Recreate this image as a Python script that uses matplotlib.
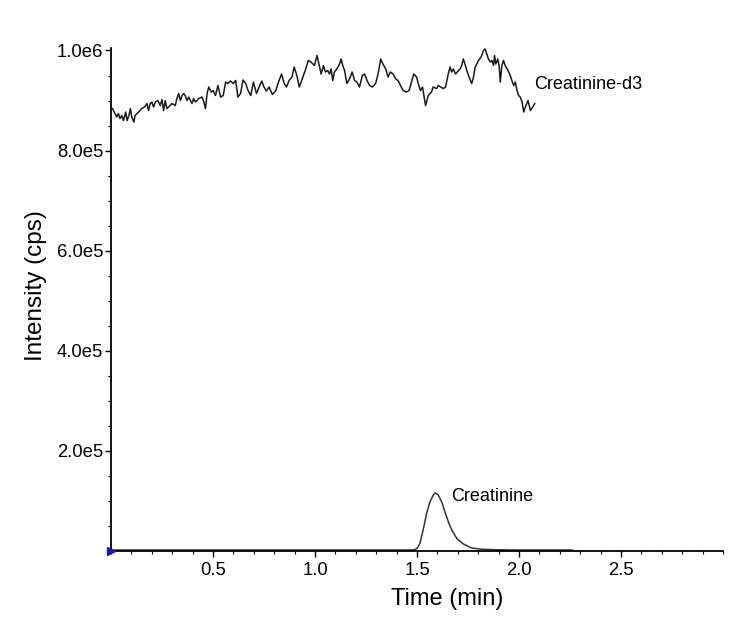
import matplotlib
matplotlib.use('Agg')
import matplotlib.pyplot as plt
import numpy as np

plt.rcParams['font.family'] = ['Liberation Sans', 'DejaVu Sans']

# Creatinine-d3 trace (time in min, intensity in k cps)
t_d3 = [0.007, 0.016, 0.028, 0.036, 0.044, 0.053, 0.061, 0.072, 0.079, 0.089,
        0.095, 0.102, 0.112, 0.118, 0.135, 0.151, 0.164, 0.176, 0.184, 0.192,
        0.200, 0.209, 0.217, 0.230, 0.241, 0.250, 0.258, 0.266, 0.274, 0.282,
        0.299, 0.315, 0.323, 0.332, 0.340, 0.348, 0.356, 0.364, 0.373, 0.381,
        0.389, 0.397, 0.405, 0.414, 0.430, 0.446, 0.455, 0.463, 0.471, 0.479,
        0.492, 0.501, 0.512, 0.524, 0.537, 0.550, 0.562, 0.573, 0.586, 0.599,
        0.611, 0.622, 0.635, 0.647, 0.660, 0.672, 0.685, 0.698, 0.713, 0.726,
        0.739, 0.750, 0.762, 0.775, 0.791, 0.808, 0.821, 0.836, 0.849, 0.860,
        0.873, 0.887, 0.898, 0.911, 0.923, 0.939, 0.952, 0.967, 0.980, 0.997,
        1.010, 1.030, 1.041, 1.051, 1.062, 1.071, 1.079, 1.087, 1.095, 1.107,
        1.120, 1.128, 1.136, 1.145, 1.156, 1.169, 1.182, 1.194, 1.205, 1.218,
        1.232, 1.243, 1.255, 1.268, 1.281, 1.297, 1.309, 1.322, 1.333, 1.347,
        1.358, 1.369, 1.383, 1.396, 1.407, 1.419, 1.432, 1.448, 1.461, 1.473,
        1.484, 1.498, 1.506, 1.517, 1.527, 1.542, 1.555, 1.571, 1.579, 1.596,
        1.604, 1.617, 1.629, 1.640, 1.653, 1.662, 1.670, 1.678, 1.689, 1.703,
        1.711, 1.719, 1.727, 1.735, 1.744, 1.755, 1.768, 1.777, 1.785, 1.793,
        1.801, 1.814, 1.826, 1.834, 1.842, 1.850, 1.859, 1.867, 1.875, 1.880,
        1.886, 1.896, 1.903, 1.908, 1.916, 1.924, 1.932, 1.946, 1.957, 1.965,
        1.974, 1.982, 1.990, 1.998, 2.006, 2.015, 2.023, 2.031, 2.044, 2.056,
        2.067, 2.077]
v_d3 = [884, 877, 867, 874, 864, 870, 860, 877, 860, 872,
        884, 867, 857, 870, 877, 884, 887, 894, 880, 894,
        897, 887, 897, 900, 890, 902, 880, 900, 884, 887,
        894, 890, 904, 914, 900, 910, 914, 910, 900, 907,
        900, 894, 904, 897, 904, 907, 897, 884, 914, 927,
        917, 920, 910, 930, 907, 910, 937, 934, 939, 934,
        940, 907, 914, 941, 934, 920, 910, 937, 914, 927,
        939, 927, 919, 927, 912, 920, 937, 953, 934, 927,
        940, 947, 967, 950, 927, 945, 960, 980, 977, 970,
        990, 953, 970, 957, 960, 953, 963, 940, 957, 963,
        973, 983, 970, 960, 934, 943, 957, 940, 937, 927,
        950, 953, 940, 930, 927, 934, 953, 983, 973, 963,
        947, 957, 953, 943, 940, 930, 920, 917, 920, 937,
        953, 947, 934, 920, 927, 890, 910, 917, 927, 924,
        930, 927, 924, 927, 953, 967, 957, 963, 953, 960,
        963, 970, 983, 973, 960, 947, 934, 947, 967, 973,
        980, 987, 1000, 1003, 993, 983, 977, 980, 970, 990,
        973, 983, 967, 937, 970, 980, 970, 960, 950, 940,
        930, 937, 920, 910, 907, 897, 877, 887, 900, 880,
        887, 894]

# Creatinine trace
t_cr = [0.0, 1.45, 1.489, 1.502, 1.514, 1.530, 1.547, 1.563, 1.580, 1.591,
        1.604, 1.621, 1.637, 1.654, 1.670, 1.695, 1.727, 1.768, 1.818, 1.892,
        2.0, 2.26]
v_cr = [2, 2, 2.5, 6, 15, 42, 75, 98, 112, 116,
        112, 98, 78, 58, 42, 25, 14, 6, 3.5, 2.5,
        2, 2]

y_ticks = [2e5, 4e5, 6e5, 8e5, 1e6]
y_labels = ['2.0e5', '4.0e5', '6.0e5', '8.0e5', '1.0e6']
x_ticks = [0.5, 1.0, 1.5, 2.0, 2.5]
x_labels = ['0.5', '1.0', '1.5', '2.0', '2.5']

fig = plt.figure(figsize=(7.39, 6.34), dpi=100)
ax = fig.add_axes([0.1502, 0.1309, 0.8282, 0.7934])

ax.plot(t_d3, np.array(v_d3) * 1000, color='#1a1a1a', lw=1.1)
ax.plot(t_cr, np.array(v_cr) * 1000, color='#333333', lw=1.1)
ax.plot([0], [0], marker='>', color='#1a1aa0', ms=6, clip_on=False, zorder=5)

ax.text(2.072, 9.33e5, 'Creatinine-d3', fontsize=13, va='center', ha='left')
ax.text(1.665, 1.08e5, 'Creatinine', fontsize=13, va='center', ha='left')

ax.set_xlim(0, 3.0)
ax.set_ylim(0, 1.005e6)
ax.set_xticks(x_ticks)
ax.set_xticklabels(x_labels)
ax.set_xticks(np.arange(0, 3.01, 0.1), minor=True)
ax.set_yticks(y_ticks)
ax.set_yticklabels(y_labels)
ax.set_yticks(np.arange(0, 1.0e6 + 1, 5e4), minor=True)

ax.tick_params(axis='both', which='major', labelsize=13.3, width=1, length=4)
ax.tick_params(axis='both', which='minor', width=0.8, length=2.5)
ax.tick_params(axis='x', which='major', pad=4)
ax.tick_params(axis='y', which='major', pad=1.5)

for s in ['top', 'right']:
    ax.spines[s].set_visible(False)
for s in ['left', 'bottom']:
    ax.spines[s].set_linewidth(1.3)

ax.set_xlabel('Time (min)', fontsize=17)
ax.xaxis.set_label_coords(0.55, -0.074)
ax.set_ylabel('Intensity (cps)', fontsize=17.5)
ax.yaxis.set_label_coords(-0.105, 0.527)

plt.savefig('out.png', dpi=100)
